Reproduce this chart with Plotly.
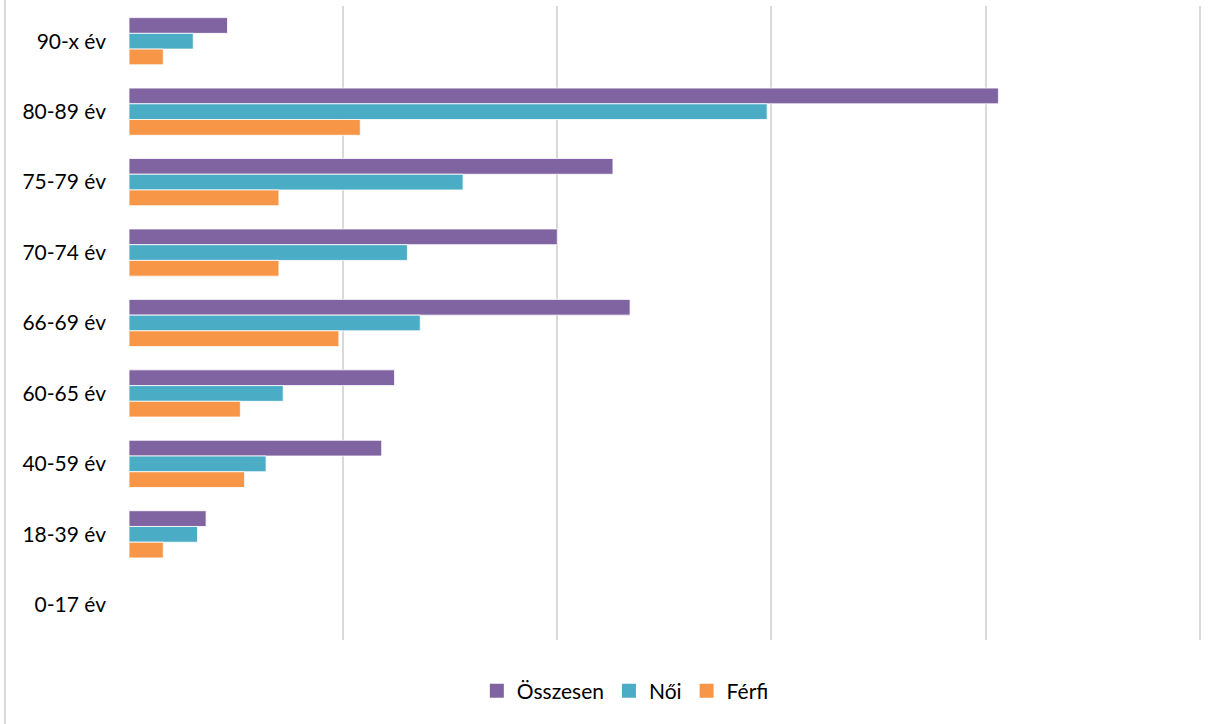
import plotly.graph_objects as go

categories = ["90-x év", "80-89 év", "75-79 év", "70-74 év", "66-69 év", "60-65 év", "40-59 év", "18-39 év", "0-17 év"]
osszesen = [23, 203, 113, 100, 117, 62, 59, 18, 0]
noi = [15, 149, 78, 65, 68, 36, 32, 16, 0]
ferfi = [8, 54, 35, 35, 49, 26, 27, 8, 0]

series = [("Összesen", osszesen, "#8064A2"), ("Női", noi, "#4BACC6"), ("Férfi", ferfi, "#F79646")]

fig = go.Figure()
for name, vals, col in series:
    fig.add_trace(go.Bar(y=categories, x=vals, name=name, orientation="h", showlegend=False,
                         marker=dict(color=col, line=dict(color="white", width=0.8))))
# legend entries with square swatches
for name, vals, col in series:
    fig.add_trace(go.Scatter(x=[None], y=[None], mode="markers", name=name,
                             marker=dict(symbol="square", size=14, color=col)))

W, H = 1229, 724
ml, mr, mt, mb = 129, 28, 6, 84
pw = W - ml - mr
ph = H - mt - mb
fig.update_layout(
    width=W, height=H,
    margin=dict(l=ml, r=mr, t=mt, b=mb),
    barmode="group", bargap=0.33, bargroupgap=0,
    plot_bgcolor="white", paper_bgcolor="white",
    font=dict(family="Lato, Open Sans, sans-serif", size=21, color="#000000"),
    xaxis=dict(range=[0, 250.3], dtick=50, showticklabels=False, showgrid=True,
               gridcolor="#D9D9D9", gridwidth=1.5, zeroline=False, showline=False, ticks="",
               automargin=False),
    yaxis=dict(autorange="reversed", showgrid=False, zeroline=False, showline=False,
               ticks="", ticklabelstandoff=22, automargin=False),
    legend=dict(orientation="h", x=0.463, xanchor="center", y=-(51 / ph), yanchor="middle",
                font=dict(size=21), itemwidth=30, tracegroupgap=0),
    showlegend=True,
)
# chart-area border on the left
fig.add_shape(type="line", xref="paper", yref="paper",
              x0=(5 - ml) / pw, x1=(5 - ml) / pw, y0=-(mb + 10) / ph, y1=1 + (mt + 10) / ph,
              line=dict(color="#D9D9D9", width=2))
fig.write_html("out.html", config={"displayModeBar": False},
               post_script="document.body.style.margin='0';document.body.style.overflow='hidden';")
